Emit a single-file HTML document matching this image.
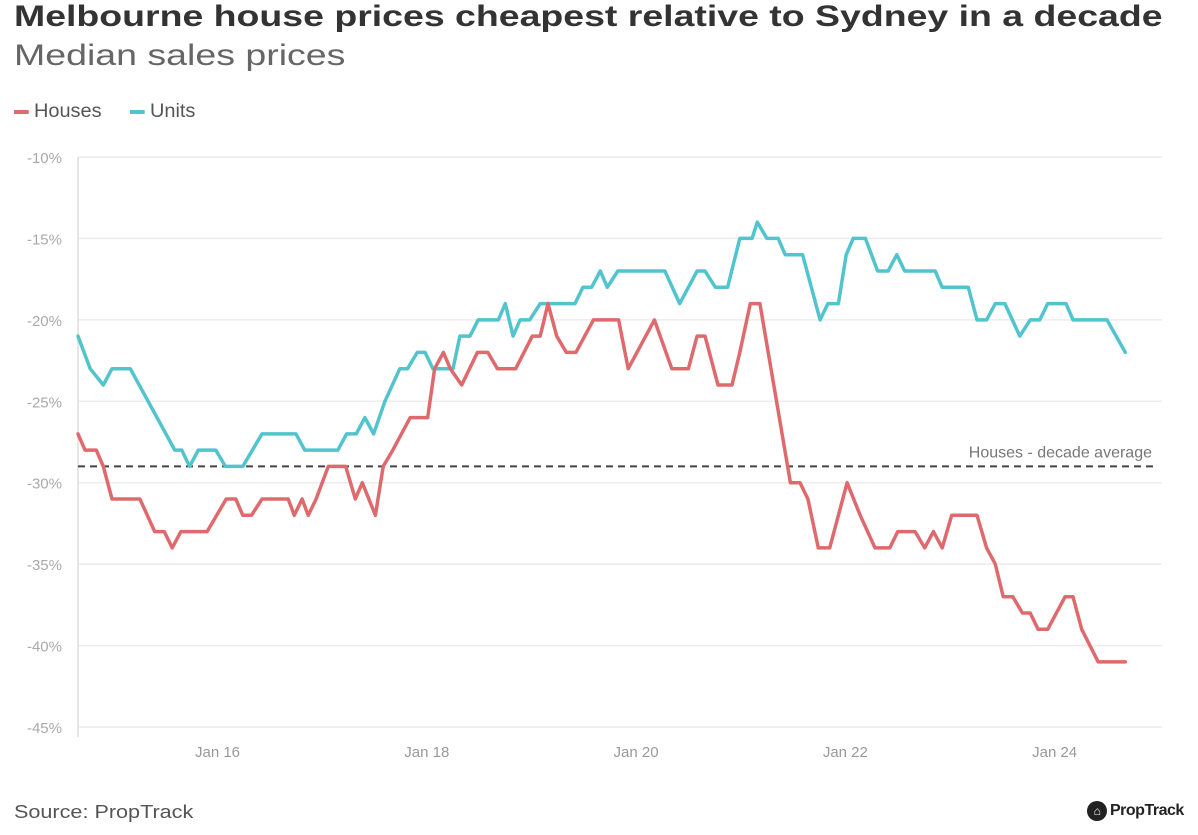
<!DOCTYPE html>
<html><head><meta charset="utf-8">
<style>
body{margin:0;background:#fff;font-family:"Liberation Sans",sans-serif;}
#wrap{position:relative;width:1198px;height:835px;overflow:hidden;background:#fff}
.t{position:absolute;white-space:nowrap;transform-origin:0 0}
</style></head>
<body>
<div id="wrap">
<div class="t" style="left:14px;top:0px;font-size:30px;font-weight:bold;color:#333;transform:scaleX(1.248)">Melbourne house prices cheapest relative to Sydney in a decade</div>
<div class="t" style="left:14px;top:39px;font-size:30px;color:#666;transform:scaleX(1.25)">Median sales prices</div>
<div class="t" style="left:14px;top:101px;font-size:19px;color:#555;transform:scaleX(1.05)"><span style="display:inline-block;width:14px;height:4px;background:#df6a6d;vertical-align:middle;margin-right:5px"></span>Houses</div>
<div class="t" style="left:130px;top:101px;font-size:19px;color:#555;transform:scaleX(1.05)"><span style="display:inline-block;width:14px;height:4px;background:#52c4cd;vertical-align:middle;margin-right:5px"></span>Units</div>
<svg id="chart" width="1198" height="835" style="position:absolute;left:0;top:0"></svg>
<div class="t" style="left:14px;top:802px;font-size:18px;color:#555;transform:scaleX(1.2)">Source: PropTrack</div>
<div class="t" style="left:1087px;top:801px;font-size:16px;font-weight:bold;color:#222;letter-spacing:-0.5px"><span style="display:inline-block;width:20px;height:20px;border-radius:50%;background:#222;color:#fff;font-size:12px;text-align:center;line-height:20px;vertical-align:middle;margin-right:3px">⌂</span>PropTrack</div>
</div>
<script>
const yTicks=[-10,-15,-20,-25,-30,-35,-40,-45];
const yTickLabels=["-10%","-15%","-20%","-25%","-30%","-35%","-40%","-45%"];
const xTickMonths=[16,40,64,88,112];
const xTickLabels=["Jan 16","Jan 18","Jan 20","Jan 22","Jan 24"];
const decadeAverage=-29;
const houseMonths=[0,0.8,2.1,2.9,3.9,7.1,8.8,9.9,10.8,11.8,14.8,17,18.1,18.9,19.9,21.1,24.1,24.8,25.7,26.4,27.3,28.7,30.7,31.8,32.6,34.1,35,36.1,38.1,40.1,40.9,41.9,42.7,44,45.8,47,48.1,50.2,52.1,53,53.9,54.9,56,57.1,59.1,62,63.1,66.1,68.1,70,71,71.9,73.4,75,75.9,77.1,78.2,81.7,82.8,83.7,84.9,86.2,88.2,89.7,91.4,93.1,94,96,97.1,98.1,99.1,100.2,103.1,104.2,105.2,106.1,107.2,108.3,109.2,110.1,111.2,113.2,114.1,115.1,117,120.1];
const houseValues=[-27,-28,-28,-29,-31,-31,-33,-33,-34,-33,-33,-31,-31,-32,-32,-31,-31,-32,-31,-32,-31,-29,-29,-31,-30,-32,-29,-28,-26,-26,-23,-22,-23,-24,-22,-22,-23,-23,-21,-21,-19,-21,-22,-22,-20,-20,-23,-20,-23,-23,-21,-21,-24,-24,-22,-19,-19,-30,-30,-31,-34,-34,-30,-32,-34,-34,-33,-33,-34,-33,-34,-32,-32,-34,-35,-37,-37,-38,-38,-39,-39,-37,-37,-39,-41,-41];
const unitMonths=[0,1.4,2.9,3.9,6,11.1,11.9,12.8,13.8,15.8,16.9,18.9,21.1,25,26,29.8,30.8,31.9,32.9,33.9,35.2,36.9,37.8,38.9,39.8,40.7,43,43.8,44.95,45.9,48.2,49,49.9,50.7,51.8,53,57,57.9,58.9,59.9,60.7,61.9,67.3,69,71,71.9,73.1,74.5,75.9,77.3,77.9,79,80.3,81.1,83.1,85.1,86,87.2,88.1,88.9,90.3,91.7,92.9,93.9,94.8,98.3,99.1,102.1,103.1,104.2,105.2,106.3,108,109.2,110.3,111.2,113.3,114.1,118,120.1];
const unitValues=[-21,-23,-24,-23,-23,-28,-28,-29,-28,-28,-29,-29,-27,-27,-28,-28,-27,-27,-26,-27,-25,-23,-23,-22,-22,-23,-23,-21,-21,-20,-20,-19,-21,-20,-20,-19,-19,-18,-18,-17,-18,-17,-17,-19,-17,-17,-18,-18,-15,-15,-14,-15,-15,-16,-16,-20,-19,-19,-16,-15,-15,-17,-17,-16,-17,-17,-18,-18,-20,-20,-19,-19,-21,-20,-20,-19,-19,-20,-20,-22];

const svg=document.getElementById('chart');
const NS='http://www.w3.org/2000/svg';
const X0=78,X1=1162,Y0=157,Y1=727;
function xs(m){return X0+m*8.72;}
function ys(v){return Y0+(-10-v)/35*(Y1-Y0);}
function mk(tag,attrs){const e=document.createElementNS(NS,tag);for(const k in attrs)e.setAttribute(k,attrs[k]);svg.appendChild(e);return e;}
yTicks.forEach((v,i)=>{
  const g=mk('line',{x1:X0,x2:X1,y1:ys(v),y2:ys(v),stroke:'#ececec','stroke-width':1.5});
  
  
  const t=mk('text',{x:62,y:ys(v)+6,'text-anchor':'end','font-size':15,fill:'#aaa','font-family':'Liberation Sans, sans-serif'});
  t.textContent=yTickLabels[i];
  
  
});
const ax=mk('line',{x1:X0,x2:X0,y1:Y0,y2:Y1+10,stroke:'#ddd','stroke-width':1.5});


xTickMonths.forEach((m,i)=>{
  const t=mk('text',{x:xs(m),y:757,'text-anchor':'middle','font-size':15,fill:'#999','font-family':'Liberation Sans, sans-serif'});
  t.textContent=xTickLabels[i];
  
  
});
const avg=mk('line',{x1:X0,x2:1158,y1:ys(decadeAverage),y2:ys(decadeAverage),stroke:'#444','stroke-width':2,'stroke-dasharray':'7,5'});


const al=mk('text',{x:1152,y:ys(decadeAverage)-9,'text-anchor':'end','font-size':16,fill:'#777','font-family':'Liberation Sans, sans-serif'});
al.textContent='Houses - decade average';


function line(ms,vs,color,name){
  const d=ms.map((m,i)=>(i?'L':'M')+xs(m).toFixed(1)+','+ys(vs[i]).toFixed(1)).join(' ');
  const p=mk('path',{d:d,fill:'none',stroke:color,'stroke-width':3.5,'stroke-linejoin':'round','stroke-linecap':'round'});
  
  
}
line(unitMonths,unitValues,'#52c4cd','units-line');
line(houseMonths,houseValues,'#df6a6d','houses-line');
</script>
</body></html>
